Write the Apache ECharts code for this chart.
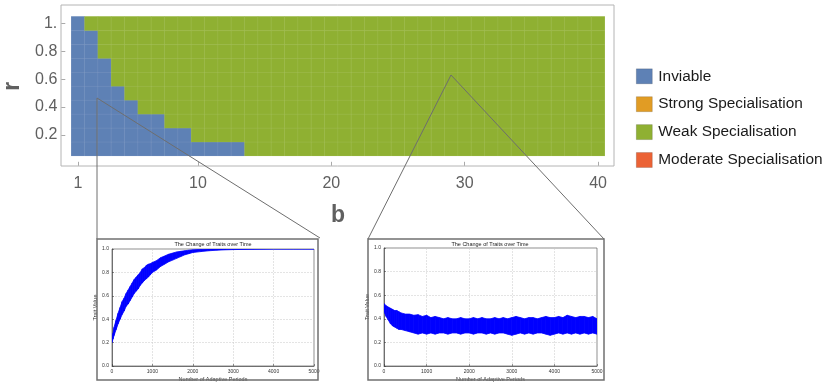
<!DOCTYPE html>
<html><head><meta charset="utf-8">
<script src="https://cdn.jsdelivr.net/npm/echarts@6/dist/echarts.min.js"></script>
<style>html,body{margin:0;padding:0;background:#fff}#c{width:830px;height:382px}</style>
</head><body><div id="c"></div>
<script>
// ---- main heatmap data ----
const bValues = [1,2,3,4,5,6,7,8,9,10,11,12,13,14,15,16,17,18,19,20,21,22,23,24,25,26,27,28,29,30,31,32,33,34,35,36,37,38,39,40];
const rValues = [0.1,0.2,0.3,0.4,0.5,0.6,0.7,0.8,0.9,1.0];
// largest b that is still "Inviable" for each r row (r = 0.1 ... 1.0)
const inviableMaxB = [13,9,7,5,4,3,3,2,2,1];
const bTickLabels = [1,10,20,30,40];
const rTickLabels = {'0.2':'0.2','0.4':'0.4','0.6':'0.6','0.8':'0.8','1':'1.'};
const classes = ['Inviable','Strong Specialisation','Weak Specialisation','Moderate Specialisation'];
const classColors = ['#5E81B5','#E19C24','#8FB032','#EB6235'];

// ---- inset A (r low, b small): trait rises to 1 ----
const periodsA = [0,25,50,100,150,200,250,300,350,400,450,500,550,600,650,700,750,800,850,900,950,1000,1100,1200,1300,1400,1500,1600,1700,1800,1900,2000,2200,2400,2600,2800,3000,3500,4000,4500,5000];
const lowA  = [0.20,0.23,0.26,0.31,0.36,0.40,0.44,0.47,0.51,0.53,0.56,0.59,0.62,0.64,0.66,0.69,0.71,0.73,0.745,0.76,0.78,0.80,0.82,0.85,0.87,0.89,0.905,0.92,0.935,0.95,0.96,0.97,0.978,0.985,0.99,0.993,0.995,0.998,1.0,1.0,1.0];
const highA = [0.21,0.28,0.33,0.39,0.45,0.50,0.55,0.58,0.62,0.65,0.68,0.71,0.74,0.76,0.78,0.80,0.83,0.84,0.86,0.87,0.875,0.885,0.90,0.925,0.94,0.955,0.965,0.975,0.98,0.985,0.99,0.993,0.997,1.0,1.0,1.0,1.0,1.0,1.0,1.0,1.0];

// ---- inset B (b large): trait settles near 0.33 ----
const periodsB = [0,50,100,150,200,250,300,350,400,500,600,700,800,900,1000,1100,1200,1300,1400,1500,1600,1700,1800,1900,2000,2100,2200,2300,2400,2500,2600,2700,2800,2900,3000,3100,3200,3300,3400,3500,3600,3700,3800,3900,4000,4100,4200,4300,4400,4500,4600,4700,4800,4900,5000];
const highB = [0.53,0.51,0.50,0.49,0.48,0.47,0.47,0.46,0.45,0.44,0.44,0.43,0.435,0.42,0.43,0.41,0.42,0.41,0.40,0.41,0.40,0.40,0.41,0.40,0.40,0.41,0.40,0.41,0.40,0.40,0.41,0.40,0.41,0.40,0.41,0.42,0.41,0.40,0.41,0.41,0.40,0.41,0.42,0.41,0.41,0.42,0.41,0.43,0.42,0.41,0.42,0.42,0.41,0.42,0.40];
const lowB  = [0.46,0.42,0.39,0.36,0.34,0.33,0.32,0.31,0.31,0.30,0.29,0.28,0.27,0.28,0.27,0.28,0.27,0.28,0.28,0.27,0.28,0.28,0.27,0.28,0.28,0.27,0.28,0.28,0.27,0.28,0.27,0.28,0.28,0.27,0.26,0.27,0.28,0.27,0.28,0.27,0.28,0.28,0.27,0.26,0.27,0.28,0.27,0.28,0.27,0.28,0.27,0.28,0.27,0.28,0.27];

// ---- build heatmap cells ----
const cellData = classes.map(() => []);
rValues.forEach((r, ri) => {
  bValues.forEach((b, bi) => {
    const cls = b <= inviableMaxB[ri] ? 0 : 2;
    cellData[cls].push([bi, ri, 1]);
  });
});

const FONT = "'Liberation Sans', Arial, Helvetica, sans-serif";
const chart = echarts.init(document.getElementById('c'), null, {renderer:'canvas'});

function insetAxes(gi){
  return {
    x: {
      gridIndex: gi, type: 'value', min: 0, max: 5000, interval: 1000,
      axisLine: {show: true, lineStyle: {color: '#333', width: 0.6}},
      axisTick: {show: true, inside: true, length: 2, lineStyle: {color: '#333', width: 0.5}},
      axisLabel: {fontSize: 5, color: '#333', margin: 3, fontFamily: FONT, formatter: v => String(v)},
      splitLine: {show: true, lineStyle: {type: 'dashed', color: '#c8c8c8', width: 0.5}},
      name: 'Number of Adaptive Periods', nameLocation: 'middle', nameGap: 10,
      nameTextStyle: {fontSize: 5.5, color: '#333', fontFamily: FONT}
    },
    y: {
      gridIndex: gi, type: 'value', min: 0, max: 1, interval: 0.2,
      axisLine: {show: true, lineStyle: {color: '#333', width: 0.6}},
      axisTick: {show: true, inside: true, length: 2, lineStyle: {color: '#333', width: 0.5}},
      axisLabel: {fontSize: 5, color: '#333', margin: 3, fontFamily: FONT, formatter: v => v.toFixed(1)},
      splitLine: {show: true, lineStyle: {type: 'dashed', color: '#c8c8c8', width: 0.5}},
      name: 'Trait Value', nameLocation: 'middle', nameGap: 11,
      nameTextStyle: {fontSize: 5.5, color: '#333', fontFamily: FONT}
    }
  };
}
const axA = insetAxes(1), axB = insetAxes(2);

// band drawn as quads between consecutive (t, low, high) samples, via the axes' own scales
function band(periods, low, high, xi){
  return {
    type: 'custom', xAxisIndex: xi, yAxisIndex: xi, silent: true, clip: true,
    data: periods.map((t, i) => [t, low[i], high[i]]),
    encode: {x: 0, y: [1, 2]},
    renderItem: function(params, api){
      const i = params.dataIndex;
      if (i >= periods.length - 1) return null;
      const p = [
        api.coord([periods[i], low[i]]),
        api.coord([periods[i], high[i]]),
        api.coord([periods[i+1], high[i+1]]),
        api.coord([periods[i+1], low[i+1]])
      ];
      return {type: 'polygon', shape: {points: p},
              style: {fill: '#0000ff', stroke: '#0000ff', lineWidth: 0.8}};
    }
  };
}

const option = {
  animation: false,
  backgroundColor: '#fff',
  textStyle: {fontFamily: FONT},
  grid: [
    {left: 71.3, top: 16.5, width: 533.4, height: 139.3, outerBoundsMode: 'none', containLabel: false},
    {left: 112, top: 249, width: 202, height: 117, show: true, borderColor: '#444', borderWidth: 0.6, backgroundColor: '#fff', outerBoundsMode: 'none', containLabel: false},
    {left: 384, top: 248, width: 213, height: 118, show: true, borderColor: '#444', borderWidth: 0.6, backgroundColor: '#fff', outerBoundsMode: 'none', containLabel: false}
  ],
  legend: {
    orient: 'vertical', left: 631, top: 63.5, itemWidth: 16, itemHeight: 15, itemGap: 12.3,
    icon: 'rect', selectedMode: false,
    textStyle: {fontSize: 15.4, color: '#1a1a1a', fontFamily: FONT, padding: [0, 0, 0, 1]},
    data: classes.map((n, i) => ({name: n, itemStyle: {color: classColors[i], borderColor: 'rgba(0,0,0,0.25)', borderWidth: 0.6}}))
  },
  xAxis: [
    {gridIndex: 0, type: 'category', data: bValues.map(String), offset: 10,
     axisLine: {show: false},
     axisTick: {show: true, inside: true, length: 4, alignWithLabel: true, lineStyle: {color: '#aaa'},
                interval: (i, v) => bTickLabels.includes(+v)},
     axisLabel: {interval: (i, v) => bTickLabels.includes(+v), fontSize: 16, color: '#606060', margin: 10, fontFamily: FONT},
     splitLine: {show: false},
     name: 'b', nameLocation: 'middle', nameGap: 38,
     nameTextStyle: {fontSize: 23, fontWeight: 'bold', color: '#606060', fontFamily: FONT}},
    axA.x, axB.x
  ],
  yAxis: [
    {gridIndex: 0, type: 'category', data: rValues.map(String), offset: 10,
     axisLine: {show: false},
     axisTick: {show: true, inside: true, length: 4, alignWithLabel: true, lineStyle: {color: '#aaa'},
                interval: (i, v) => rTickLabels[v] !== undefined},
     axisLabel: {interval: (i, v) => rTickLabels[v] !== undefined, formatter: v => rTickLabels[v] || '',
                 fontSize: 16, color: '#606060', margin: 4, fontFamily: FONT},
     splitLine: {show: false},
     name: 'r', nameLocation: 'middle', nameGap: 26,
     nameTextStyle: {fontSize: 23, fontWeight: 'bold', color: '#606060', fontFamily: FONT}},
    axA.y, axB.y
  ],
  series: [
    ...classes.map((n, i) => ({
      name: n, type: 'heatmap', xAxisIndex: 0, yAxisIndex: 0, data: cellData[i],
      itemStyle: {color: classColors[i], borderColor: 'rgba(255,255,255,0.13)', borderWidth: 0.6},
      emphasis: {disabled: true}, silent: true
    })),
    band(periodsA, lowA, highA, 1),
    band(periodsB, lowB, highB, 2)
  ],
  graphic: [
    // main plot frame
    {type: 'rect', shape: {x: 61, y: 5, width: 553, height: 161}, style: {fill: 'none', stroke: '#b4b4b4', lineWidth: 1}, silent: true},
    // inset boxes
    {type: 'rect', shape: {x: 97, y: 239, width: 221, height: 141}, style: {fill: 'none', stroke: '#707070', lineWidth: 1.5}, silent: true, z: 1},
    {type: 'rect', shape: {x: 368, y: 239, width: 236, height: 141}, style: {fill: 'none', stroke: '#707070', lineWidth: 1.5}, silent: true, z: 1},
    // connector lines
    {type: 'line', shape: {x1: 97, y1: 98, x2: 97, y2: 239}, style: {stroke: '#6e6e6e', lineWidth: 1}, silent: true, z: 100},
    {type: 'line', shape: {x1: 97, y1: 98, x2: 320, y2: 238}, style: {stroke: '#6e6e6e', lineWidth: 1}, silent: true, z: 100},
    {type: 'line', shape: {x1: 451, y1: 75, x2: 368, y2: 239}, style: {stroke: '#6e6e6e', lineWidth: 1}, silent: true, z: 100},
    {type: 'line', shape: {x1: 451, y1: 75, x2: 604, y2: 239}, style: {stroke: '#6e6e6e', lineWidth: 1}, silent: true, z: 100},
    // inset titles
    {type: 'text', x: 213, y: 241, style: {text: 'The Change of Traits over Time', fontSize: 5.5, fill: '#222', textAlign: 'center', fontFamily: FONT}, silent: true},
    {type: 'text', x: 490, y: 241, style: {text: 'The Change of Traits over Time', fontSize: 5.5, fill: '#222', textAlign: 'center', fontFamily: FONT}, silent: true}
  ]
};
chart.setOption(option);
</script></body></html>
